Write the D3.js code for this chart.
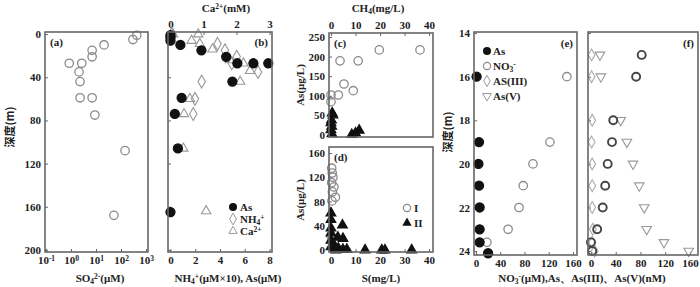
<!DOCTYPE html>
<html><head><meta charset="utf-8">
<script src="https://cdn.jsdelivr.net/npm/d3@7"></script>
<style>
body{margin:0;background:#fff}
text{font-family:"Liberation Serif","Times New Roman",serif;font-weight:bold;fill:#222;font-size:11px}
.cjk{font-family:"Noto Sans CJK SC",sans-serif;font-weight:bold}
</style></head><body><svg id="chart" width="700" height="287"></svg>
<script>
// (a) SO4 vs depth
const depthA = [1, 5, 10, 15, 21, 27, 27, 35, 44, 59, 59, 75, 108, 168];
const so4A   = [430, 300, 21, 7, 7, 0.85, 2.7, 2.1, 2.3, 2.3, 7, 9, 145, 52];

// (b) As, NH4+, Ca2+ vs depth
const depthAsB = [1, 3, 6, 10, 15, 21, 27, 27, 27, 44, 59, 74, 106, 165];
const asB      = [0, 0, 0, 0.8, 2.5, 4.5, 5.4, 6.7, 7.9, 5.0, 0.9, 0.35, 0.6, 0];
const depthNh4B = [0, 9, 15, 21, 27, 35, 44, 60, 74];
const nh4B      = [0.1, 3.8, 4.4, 5.35, 4.95, 7.07, 2.52, 1.98, 1.84];
const depthCaB = [0, 0, 6, 9, 14, 24, 27, 34, 44, 60, 74, 106, 164];
const caB      = [0.08, 0.84, 0.64, 0.89, 1.27, 1.8, 2.21, 2.41, 2.11, 0.59, 0.41, 0.39, 1.08];

// (c) CH4 vs As
const ch4I = [3.7, 11.1, 19.7, 36.3, 5.3, 9.1, 3.0, 0, 0];
const asCI = [189, 189, 217, 217, 130, 113, 102, 102, 85];
const ch4II = [0.5, 0.8, 0.2, 0, 0.3, 0, 0.4, 8.5, 10, 11.5];
const asCII = [56, 51, 38, 31, 22, 13, 3, 1, 5, 12];

// (d) S vs As
const sI  = [0.3, 0.5, 0.8, 0.3, 1.2, 0.6, 1.8, 0.4, 0];
const asDI = [135, 127, 120, 111, 104, 96, 87, 81, 23];
const sII  = [0, 0, 4.7, 0, 0, 2.8, 4.9, 0, 1, 0, 1.6, 3, 4.9, 6.5, 2, 13.9, 20.7, 22, 32.9];
const asDII = [61, 50, 41, 36, 28, 21, 19, 16, 10, 5, 2, 3, 1, 1, 0, 0, 0, 0, 0];

// (e) depth profile (uM / nM)
const depthAsE = [16, 19, 20, 21, 22, 23, 23.6, 24.1];
const asE      = [1, 5, 4, 5, 6, 6, 6, 20];
const depthNo3E = [16, 19, 20, 21, 22, 23, 23.6];
const no3E      = [150, 122, 94, 78, 71, 53, 18];

// (f) depth profile (nM)
const depthF = [15, 16, 18, 19, 20, 21, 22, 23, 23.6, 24];
const asF    = [82, 73, 36, 34, 27, 23, 19, 10, 0, 2];
const as3F   = [1, 1, 2, 1, 2, 2, 2, 3, 2, 6];
const as5F   = [14.5, 16, 48, 58, 68, 78, 86, 90, 118, 158];

const svg = d3.select("#chart");
const FRAME = "#666", GREY = "#8a8a8a";

function rich(sel, parts) {
  parts.forEach(p => {
    const t = sel.append("tspan").text(p[0]);
    if (p[1] === "sub") t.attr("baseline-shift", "-20%").attr("font-size", "7.5px");
    if (p[1] === "sup") t.attr("baseline-shift", "35%").attr("font-size", "7.5px");
  });
  return sel;
}

function frame(x, y) {
  svg.append("rect")
    .attr("x", x.range()[0]).attr("y", d3.min(y.range()))
    .attr("width", x.range()[1] - x.range()[0])
    .attr("height", Math.abs(y.range()[1] - y.range()[0]))
    .attr("fill", "none").attr("stroke", FRAME).attr("stroke-width", 1.6);
}

function axis(gen, tx, ty, ticks, labels) {
  gen.tickValues(ticks).tickSize(-3).tickPadding(4);
  gen.tickFormat(labels ? d3.format("~g") : "");
  const g = svg.append("g").attr("transform", `translate(${tx},${ty})`).call(gen);
  g.select(".domain").remove();
  g.selectAll(".tick line").attr("stroke", FRAME);
  g.selectAll(".tick text").attr("fill", "#222").attr("font-size", 11);
  return g;
}

function circles(data, x, y, opt) {
  svg.append("g").selectAll("circle").data(data).join("circle")
    .attr("cx", d => x(d[0])).attr("cy", d => y(d[1]))
    .attr("r", opt.r || 4.2)
    .attr("fill", opt.fill || "#fff").attr("fill-opacity", opt.fill ? 1 : 0)
    .attr("stroke", opt.stroke || GREY).attr("stroke-width", opt.sw || 1.3);
}

function symbols(data, x, y, type, opt) {
  svg.append("g").selectAll("path").data(data).join("path")
    .attr("d", d3.symbol().type(type).size(opt.size || 40))
    .attr("transform", d => `translate(${x(d[0])},${y(d[1])})${opt.rot ? " rotate(180)" : ""}`)
    .attr("fill", opt.fill || "none")
    .attr("stroke", opt.stroke || GREY).attr("stroke-width", opt.sw || 1.1);
}

// ---------- (a)
const yDepth = d3.scaleLinear().domain([-2, 202]).range([32, 252]);
const xA = d3.scaleLog().domain([0.1, 1000]).range([46, 146]);
axis(d3.axisLeft(yDepth), 45, 0, [0, 40, 80, 120, 160, 200], true);
const ga = axis(d3.axisBottom(xA), 0, 252, [0.1, 1, 10, 100, 1000], true);
ga.selectAll(".tick text").text(null).each(function(d) {
  rich(d3.select(this), [["10", null], [String(Math.round(Math.log10(d))), "sup"]]);
});
circles(d3.zip(so4A, depthA), xA, yDepth, {});
frame(d3.scaleLinear().range([45, 148]), yDepth);
svg.append("text").attr("x", 50).attr("y", 46).attr("font-size", 11).text("(a)");
rich(svg.append("text").attr("x", 100).attr("y", 282).attr("text-anchor", "middle").attr("font-size", 12),
  [["SO", null], ["4", "sub"], ["2-", "sup"], ["(μM)", null]]);
svg.append("text").attr("class", "cjk").attr("transform", "translate(14,127) rotate(-90)")
  .attr("text-anchor", "middle").attr("font-size", 12).text("深度(m)");

// ---------- (b)
const xB = d3.scaleLinear().domain([-0.2, 8.2]).range([168, 272]);
const xBtop = d3.scaleLinear().domain([-0.075, 3.075]).range([168, 272]);
axis(d3.axisLeft(yDepth), 168, 0, [0, 40, 80, 120, 160, 200], false);
axis(d3.axisBottom(xB), 0, 252, [0, 2, 4, 6, 8], true);
axis(d3.axisTop(xBtop), 0, 32, [0, 1, 2, 3], true);
symbols(d3.zip(caB, depthCaB), xBtop, yDepth, d3.symbolTriangle, {size: 38, stroke: "#999"});
symbols(d3.zip(nh4B, depthNh4B), xB, yDepth, d3.symbolDiamond, {size: 48, stroke: "#999"});
circles(d3.zip(asB, depthAsB), xB, yDepth, {fill: "#111", stroke: "#111", r: 4.5});
frame(xB, yDepth);
svg.append("text").attr("x", 268).attr("y", 46).attr("text-anchor", "end").text("(b)");
rich(svg.append("text").attr("x", 226).attr("y", 12).attr("text-anchor", "middle").attr("font-size", 12),
  [["Ca", null], ["2+", "sup"], ["(mM)", null]]);
rich(svg.append("text").attr("x", 228).attr("y", 282).attr("text-anchor", "middle").attr("font-size", 12),
  [["NH", null], ["4", "sub"], ["+", "sup"], ["(μM×10), As(μM)", null]]);
// legend (b)
const legB = [["As", "c"], ["NH4", "d"], ["Ca", "t"]];
legB.forEach((l, i) => {
  const ly = 207 + i * 12;
  if (l[1] === "c") svg.append("circle").attr("cx", 233).attr("cy", ly).attr("r", 4).attr("fill", "#111");
  if (l[1] === "d") svg.append("path").attr("d", d3.symbol().type(d3.symbolDiamond).size(40)).attr("transform", `translate(233,${ly})`).attr("fill", "none").attr("stroke", "#999");
  if (l[1] === "t") svg.append("path").attr("d", d3.symbol().type(d3.symbolTriangle).size(30)).attr("transform", `translate(233,${ly})`).attr("fill", "none").attr("stroke", "#999");
  const t = svg.append("text").attr("x", 240).attr("y", ly + 3.5).attr("font-size", 9.5);
  if (i === 0) t.text("As");
  if (i === 1) rich(t, [["NH", null], ["4", "sub"], ["+", "sup"]]);
  if (i === 2) rich(t, [["Ca", null], ["2+", "sup"]]);
});

// ---------- (c)
const xC = d3.scaleLinear().domain([-0.8, 41.6]).range([329, 433]);
const yC = d3.scaleLinear().domain([-5, 260]).range([137, 33]);
axis(d3.axisLeft(yC), 329, 0, [0, 50, 100, 150, 200, 250], true);
axis(d3.axisTop(xC), 0, 33, [0, 10, 20, 30, 40], true);
circles(d3.zip(ch4I, asCI), xC, yC, {});
symbols(d3.zip(ch4II, asCII), xC, yC, d3.symbolTriangle, {fill: "#111", stroke: "#111", size: 42});
frame(xC, yC);
svg.append("text").attr("x", 334).attr("y", 47).text("(c)");
rich(svg.append("text").attr("x", 378).attr("y", 12).attr("text-anchor", "middle").attr("font-size", 12),
  [["CH", null], ["4", "sub"], ["(mg/L)", null]]);
svg.append("text").attr("transform", "translate(304,85) rotate(-90)").attr("text-anchor", "middle")
  .attr("font-size", 12).text("As(μg/L)");

// ---------- (d)
const xD = d3.scaleLinear().domain([-0.8, 41.6]).range([329, 433]);
const yD = d3.scaleLinear().domain([-3.3, 170]).range([252, 147]);
axis(d3.axisLeft(yD), 329, 0, [0, 40, 80, 120, 160], true);
axis(d3.axisBottom(xD), 0, 252, [0, 10, 20, 30, 40], true);
circles(d3.zip(sI, asDI), xD, yD, {});
symbols(d3.zip(sII, asDII), xD, yD, d3.symbolTriangle, {fill: "#111", stroke: "#111", size: 42});
frame(xD, yD);
svg.append("text").attr("x", 334).attr("y", 161).text("(d)");
svg.append("text").attr("x", 381).attr("y", 282).attr("text-anchor", "middle").attr("font-size", 12).text("S(mg/L)");
svg.append("text").attr("transform", "translate(304,200) rotate(-90)").attr("text-anchor", "middle")
  .attr("font-size", 12).text("As(μg/L)");
svg.append("circle").attr("cx", 407).attr("cy", 208).attr("r", 3.6).attr("fill", "none").attr("stroke", GREY).attr("stroke-width", 1.2);
svg.append("text").attr("x", 414).attr("y", 212).attr("font-size", 10).text("I");
svg.append("path").attr("d", d3.symbol().type(d3.symbolTriangle).size(38)).attr("transform", "translate(407,223)").attr("fill", "#111");
svg.append("text").attr("x", 414).attr("y", 227).attr("font-size", 10).text("II");

// ---------- (e)
const yE = d3.scaleLinear().domain([13.95, 24.18]).range([32, 255]);
const xE = d3.scaleLinear().domain([-3.3, 166.7]).range([474, 577]);
axis(d3.axisLeft(yE), 474, 0, [14, 16, 18, 20, 22, 24], true);
axis(d3.axisBottom(xE), 0, 255, [0, 40, 80, 120, 160], true);
circles(d3.zip(no3E, depthNo3E), xE, yE, {});
circles(d3.zip(asE, depthAsE), xE, yE, {fill: "#111", stroke: "#111", r: 4.5});
frame(xE, yE);
svg.append("text").attr("x", 573).attr("y", 47).attr("text-anchor", "end").text("(e)");
svg.append("text").attr("class", "cjk").attr("transform", "translate(452,132) rotate(-90)")
  .attr("text-anchor", "middle").attr("font-size", 12).text("深度(m)");
const legE = ["As", "NO3", "AS(III)", "As(V)"];
legE.forEach((l, i) => {
  const ly = 51 + i * 15;
  if (i === 0) svg.append("circle").attr("cx", 487).attr("cy", ly).attr("r", 4).attr("fill", "#111");
  if (i === 1) svg.append("circle").attr("cx", 487).attr("cy", ly).attr("r", 3.6).attr("fill", "none").attr("stroke", GREY).attr("stroke-width", 1.2);
  if (i === 2) svg.append("path").attr("d", d3.symbol().type(d3.symbolDiamond).size(36)).attr("transform", `translate(487,${ly})`).attr("fill", "none").attr("stroke", "#999");
  if (i === 3) svg.append("path").attr("d", d3.symbol().type(d3.symbolTriangle).size(32)).attr("transform", `translate(487,${ly}) rotate(180)`).attr("fill", "none").attr("stroke", "#999");
  const t = svg.append("text").attr("x", 493).attr("y", ly + 4).attr("font-size", 10);
  if (i === 1) rich(t, [["NO", null], ["3", "sub"], ["-", "sup"]]);
  else t.text(l);
});

// ---------- (f)
const xF = d3.scaleLinear().domain([-4.8, 173]).range([588, 698]);
axis(d3.axisLeft(yE), 588, 0, [14, 16, 18, 20, 22, 24], false);
axis(d3.axisBottom(xF), 0, 255, [0, 40, 80, 120, 160], true);
symbols(d3.zip(as3F, depthF), xF, yE, d3.symbolDiamond, {size: 40, stroke: "#aaa"});
symbols(d3.zip(as5F, depthF), xF, yE, d3.symbolTriangle, {size: 40, stroke: "#999", rot: true});
circles(d3.zip(asF, depthF), xF, yE, {stroke: "#444", sw: 1.9, r: 4});
frame(xF, yE);
svg.append("text").attr("x", 694).attr("y", 47).attr("text-anchor", "end").text("(f)");
rich(svg.append("text").attr("x", 582).attr("y", 282).attr("text-anchor", "middle").attr("font-size", 12),
  [["NO", null], ["3", "sub"], ["-", "sup"], ["(μM),As、As(III)、As(V)(nM)", null]]);
</script></body></html>
